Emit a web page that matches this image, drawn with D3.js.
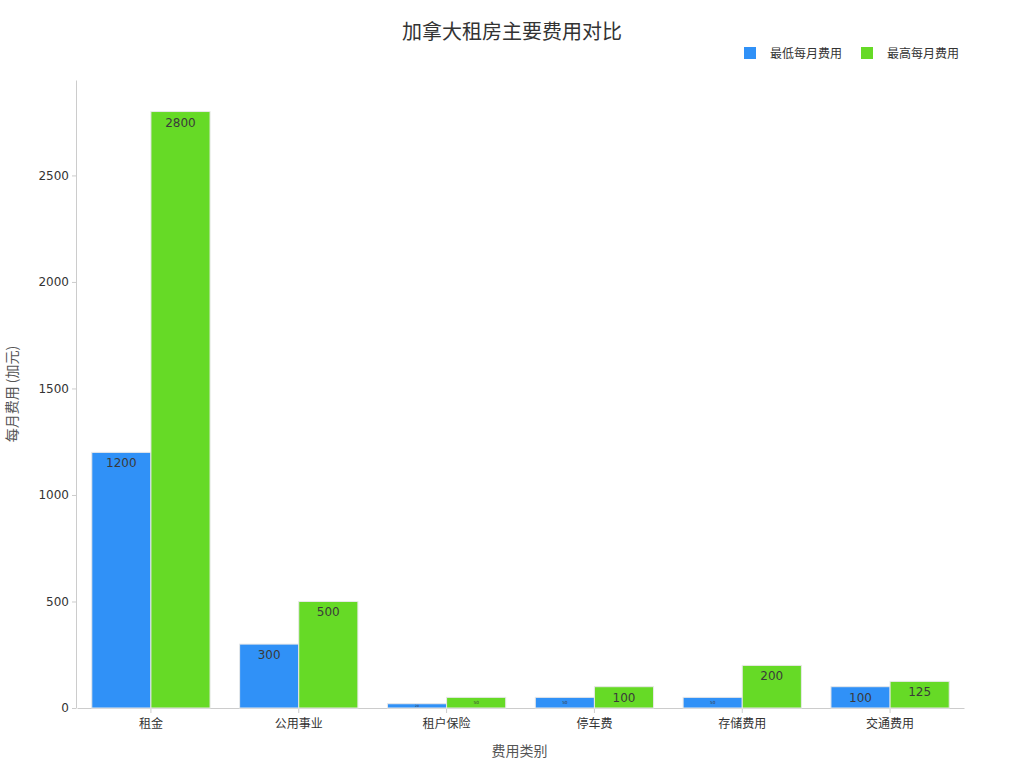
<!DOCTYPE html>
<html>
<head>
<meta charset="utf-8">
<script src="https://cdn.jsdelivr.net/npm/d3@7"></script>
<style>
body { margin: 0; background: #fff; font-family: "Noto Sans CJK SC", "DejaVu Sans", sans-serif; }
.axis path, .axis line { stroke: #ccc; }
.axis text { fill: #333; font-size: 12px; font-family: "DejaVu Sans", "Noto Sans CJK SC", sans-serif; }
.axis--x text { font-family: "Noto Sans CJK SC", sans-serif; }
</style>
</head>
<body>
<div id="chart"></div>
<script>
// chart data
var categories = ["租金", "公用事业", "租户保险", "停车费", "存储费用", "交通费用"];
var seriesNames = ["最低每月费用", "最高每月费用"];
var minCost = [1200, 300, 20, 50, 50, 100];
var maxCost = [2800, 500, 50, 100, 200, 125];
var yTicks = [0, 500, 1000, 1500, 2000, 2500];
var colors = ["#3091F7", "#66DA26"];

var W = 1024, H = 768;
var margin = {top: 80, right: 61, bottom: 60, left: 76},
    width = W - margin.left - margin.right,
    height = H - margin.top - margin.bottom;

var svg = d3.select("#chart").append("svg")
	.attr("width", W)
	.attr("height", H);

var g = svg.append("g")
	.attr("transform", "translate(" + margin.left + "," + margin.top + ")");

//scales
var x0 = d3.scaleBand().domain(categories).range([1, width + 1]).paddingInner(0.2).paddingOuter(0.1);
var x1 = d3.scaleBand().domain(seriesNames).range([0, x0.bandwidth()]);
var y = d3.scaleLinear().domain([0, 2948]).range([height, 0]);

g.append("g")
	.attr("class", "axis axis--x")
	.attr("transform", "translate(0," + height + ")")
	.call(d3.axisBottom(x0).tickSize(5).tickSizeOuter(0))
	.selectAll("text").attr("dy", "1.0em");

g.append("g")
	.attr("class", "axis axis--y")
	.call(d3.axisLeft(y).tickValues(yTicks).tickFormat(d3.format("d")).tickSize(4).tickSizeOuter(0));

var rows = categories.map(function(c, i) {
	return {cat: c, vals: [minCost[i], maxCost[i]]};
});

var group = g.selectAll(".grp")
	.data(rows)
	.enter().append("g")
	.attr("class", "grp")
	.attr("transform", function(d) { return "translate(" + x0(d.cat) + ",0)"; });

var bar = group.selectAll(".bar")
	.data(function(d) { return d.vals.map(function(v, j) { return {s: seriesNames[j], v: v, j: j}; }); })
	.enter().append("g")
	.attr("class", "bar");

bar.append("rect")
	.attr("x", function(d) { return x1(d.s); })
	.attr("y", function(d) { return y(d.v); })
	.attr("width", x1.bandwidth())
	.attr("height", function(d) { return height - y(d.v); })
	.attr("fill", function(d) { return colors[d.j]; })
	.attr("stroke", "#e8e8e8")
	.attr("stroke-width", 1);

//value labels, shrink them when the bar is short
bar.append("text")
	.attr("text-anchor", "middle")
	.attr("fill", "#3a3a3a")
	.attr("font-family", "DejaVu Sans, sans-serif")
	.attr("x", function(d) { return x1(d.s) + x1.bandwidth() / 2; })
	.attr("y", function(d) {
		var h = height - y(d.v);
		if (h >= 18) return y(d.v) + 15;
		return y(d.v) + h / 2;
	})
	.attr("dy", function(d) { return (height - y(d.v)) >= 18 ? 0 : "0.35em"; })
	.attr("font-size", function(d) {
		var h = height - y(d.v);
		return h >= 18 ? 12 : Math.max(3, h / 2.5);
	})
	.text(function(d) { return d.v; });

//title
svg.append("text")
	.attr("x", W / 2)
	.attr("y", 39)
	.attr("text-anchor", "middle")
	.attr("font-size", 20)
	.attr("fill", "#333")
	.text("加拿大租房主要费用对比");

//axis titles
svg.append("text")
	.attr("x", margin.left + width / 2)
	.attr("y", 756)
	.attr("text-anchor", "middle")
	.attr("font-size", 14)
	.attr("fill", "#555")
	.text("费用类别");

svg.append("text")
	.attr("transform", "translate(17," + (margin.top + height / 2) + ") rotate(-90)")
	.attr("text-anchor", "middle")
	.attr("font-size", 14)
	.attr("fill", "#555")
	.text("每月费用 (加元)");

//legend
var legX = [744, 861];
var leg = svg.selectAll(".legend")
	.data(seriesNames)
	.enter().append("g")
	.attr("class", "legend")
	.attr("transform", function(d, i) { return "translate(" + legX[i] + ",47)"; });

leg.append("rect")
	.attr("width", 12)
	.attr("height", 12)
	.attr("fill", function(d, i) { return colors[i]; });

leg.append("text")
	.attr("x", 26)
	.attr("y", 11)
	.attr("font-size", 12)
	.attr("fill", "#333")
	.text(function(d) { return d; });
</script>
</body>
</html>
